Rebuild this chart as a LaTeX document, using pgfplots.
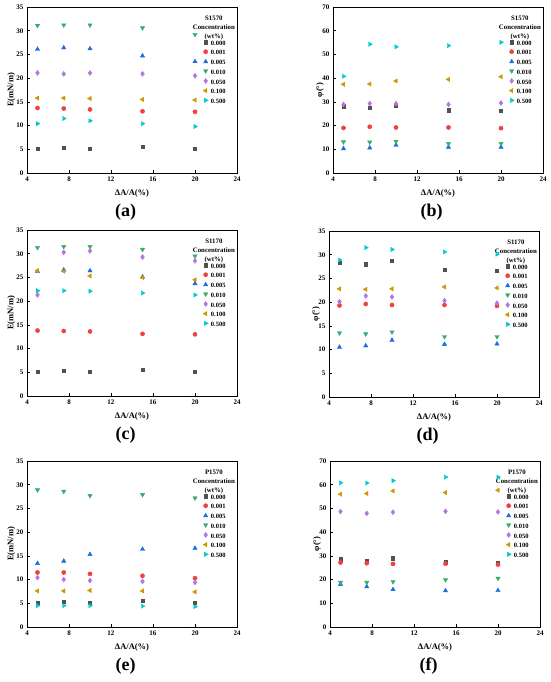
\documentclass[border=0pt]{standalone}
\usepackage{pgfplots}
\pgfplotsset{compat=1.18}
\usepackage{fontspec}
\setmainfont{Liberation Serif}
\definecolor{c0}{HTML}{515151}
\definecolor{c1}{HTML}{F14040}
\definecolor{c2}{HTML}{1A6FDF}
\definecolor{c3}{HTML}{37AD6B}
\definecolor{c4}{HTML}{B177DE}
\definecolor{c5}{HTML}{CC9900}
\definecolor{c6}{HTML}{00CBCC}
\pgfplotsset{
  myleg/.style={legend image code/.code={\draw[##1] plot coordinates {(0pt,1.8pt)};}},
  s0/.style={only marks, color=c0, mark=square*, mark size=1.6pt, myleg},
  s1/.style={only marks, color=c1, mark=*, mark size=2.1pt, myleg},
  s2/.style={only marks, color=c2, mark=triangle*, mark size=2.5pt, myleg},
  s3/.style={only marks, color=c3, mark=triangle*, mark size=2.5pt, mark options={rotate=180}, myleg},
  s4/.style={only marks, color=c4, mark=diamond*, mark size=2.5pt, myleg},
  s5/.style={only marks, color=c5, mark=triangle*, mark size=2.5pt, mark options={rotate=90}, myleg},
  s6/.style={only marks, color=c6, mark=triangle*, mark size=2.5pt, mark options={rotate=-90}, myleg},
  panel/.style={
    scale only axis, width=210pt, height=166pt, anchor=south west,
    xmin=4, xmax=24, xtick={4,8,12,16,20,24}, ymin=0,
    clip=false,
    axis line style={line width=0.7pt},
    tick style={line width=0.7pt, black},
    tick align=inside, xtick pos=bottom, ytick pos=left,
    major tick length=3pt,
    /pgf/number format/assume math mode=true,
    ticklabel style={font=\bfseries\fontsize{7}{8}\selectfont},
    xlabel={ΔA/A(\%)},
    every axis label/.append style={font=\bfseries\fontsize{8.5}{10}\selectfont},
    every axis x label/.style={at={(axis description cs:0.5,0)}, yshift=-20pt, anchor=center},
    every axis y label/.style={at={(axis description cs:-0.075,0.5)}, rotate=90, anchor=center},
    legend style={draw=none, fill=none, at={(axis description cs:0.838,0.8)}, anchor=north west,
      font=\bfseries\fontsize{6.5}{7}\selectfont, row sep=2.2pt, column sep=2.2pt, inner sep=0pt,
      nodes={inner sep=0.6pt}},
    legend cell align=left,
  },
}
\newcommand{\legtitle}[1]{\node[font=\bfseries\fontsize{6.8}{9.3}\selectfont, align=center, anchor=north] at (rel axis cs:0.89,0.97) {#1\\Concentration\\(wt\%)};}
\newcommand{\plabel}[1]{\node[font=\bfseries\fontsize{18}{20}\selectfont, yshift=-39pt] at (rel axis cs:0.47,0) {#1};}
\newcommand{\legs}{\legend{0.000,0.001,0.005,0.010,0.050,0.100,0.500}}
\begin{document}
\begin{tikzpicture}[x=1pt,y=1pt]
\path (0,0) rectangle (550,682);
% (a)
\begin{axis}[panel, at={(27pt,509pt)}, ymax=35, ytick={0,5,...,35}, ylabel={E(mN/m)}]
\addplot[s0] coordinates {(5,5.1) (7.5,5.3) (10,5.1) (15,5.5) (20,5.1)};
\addplot[s1] coordinates {(5,13.7) (7.5,13.6) (10,13.4) (15,13.0) (20,12.9)};
\addplot[s2] coordinates {(5,26.1) (7.5,26.4) (10,26.2) (15,24.7) (20,23.5)};
\addplot[s3] coordinates {(5,31.1) (7.5,31.2) (10,31.2) (15,30.6) (20,29.2)};
\addplot[s4] coordinates {(5,21.1) (7.5,20.9) (10,21.1) (15,20.9) (20,20.5)};
\addplot[s5] coordinates {(5,15.8) (7.5,15.8) (10,15.7) (15,15.5) (20,15.4)};
\addplot[s6] coordinates {(5,10.4) (7.5,11.5) (10,11.0) (15,10.4) (20,9.8)};
\legs
\legtitle{S1570}
\plabel{(a)}
\end{axis}
% (b)
\begin{axis}[panel, at={(333pt,509pt)}, ymax=70, ytick={0,10,...,70}, ylabel={φ(°)},
  every axis y label/.style={at={(axis description cs:-0.062,0.5)}, rotate=90, anchor=center}]
\addplot[s0] coordinates {(5,28.2) (7.5,27.6) (10,28.5) (15,26.5) (20,26.4)};
\addplot[s1] coordinates {(5,19.0) (7.5,19.5) (10,19.2) (15,19.2) (20,18.9)};
\addplot[s2] coordinates {(5,10.3) (7.5,10.6) (10,11.7) (15,10.9) (20,10.9)};
\addplot[s3] coordinates {(5,13.1) (7.5,13.0) (10,13.3) (15,12.4) (20,12.4)};
\addplot[s4] coordinates {(5,28.9) (7.5,29.3) (10,29.2) (15,28.9) (20,29.5)};
\addplot[s5] coordinates {(5,37.4) (7.5,37.5) (10,38.8) (15,39.5) (20,40.6)};
\addplot[s6] coordinates {(5,40.8) (7.5,54.3) (10,53.2) (15,53.7) (20,55.1)};
\legs
\legtitle{S1570}
\plabel{(b)}
\end{axis}
% (c)
\begin{axis}[panel, at={(27pt,286pt)}, ymax=35, ytick={0,5,...,35}, ylabel={E(mN/m)}]
\addplot[s0] coordinates {(5,5.2) (7.5,5.3) (10,5.2) (15,5.5) (20,5.2)};
\addplot[s1] coordinates {(5,13.8) (7.5,13.7) (10,13.6) (15,13.1) (20,13.0)};
\addplot[s2] coordinates {(5,26.3) (7.5,26.6) (10,26.4) (15,25.1) (20,23.7)};
\addplot[s3] coordinates {(5,31.3) (7.5,31.5) (10,31.5) (15,30.9) (20,29.5)};
\addplot[s4] coordinates {(5,21.3) (7.5,30.3) (10,30.6) (15,29.3) (20,28.5)};
\addplot[s5] coordinates {(5,26.4) (7.5,26.3) (10,25.3) (15,25.0) (20,24.5)};
\addplot[s6] coordinates {(5,22.2) (7.5,22.2) (10,22.1) (15,21.7) (20,21.3)};
\legs
\legtitle{S1170}
\plabel{(c)}
\end{axis}
% (d)
\begin{axis}[panel, at={(329pt,285pt)}, ymax=35, ytick={0,5,...,35}, ylabel={φ(°)},
  every axis y label/.style={at={(axis description cs:-0.062,0.5)}, rotate=90, anchor=center}]
\addplot[s0] coordinates {(5,28.4) (7.5,28.0) (10,28.8) (15,26.9) (20,26.7)};
\addplot[s1] coordinates {(5,19.3) (7.5,19.6) (10,19.4) (15,19.4) (20,19.2)};
\addplot[s2] coordinates {(5,10.5) (7.5,10.8) (10,12.0) (15,11.1) (20,11.2)};
\addplot[s3] coordinates {(5,13.5) (7.5,13.3) (10,13.7) (15,12.7) (20,12.7)};
\addplot[s4] coordinates {(5,20.1) (7.5,21.3) (10,21.1) (15,20.3) (20,19.8)};
\addplot[s5] coordinates {(5,22.8) (7.5,22.7) (10,22.8) (15,23.2) (20,23.0)};
\addplot[s6] coordinates {(5,28.9) (7.5,31.5) (10,31.1) (15,30.6) (20,30.1)};
\legs
\legtitle{S1170}
\plabel{(d)}
\end{axis}
% (e)
\begin{axis}[panel, at={(27pt,55pt)}, ymax=35, ytick={0,5,...,35}, ylabel={E(mN/m)}]
\addplot[s0] coordinates {(5,5.2) (7.5,5.3) (10,5.2) (15,5.5) (20,5.2)};
\addplot[s1] coordinates {(5,11.5) (7.5,11.5) (10,11.2) (15,10.8) (20,10.3)};
\addplot[s2] coordinates {(5,13.4) (7.5,13.9) (10,15.3) (15,16.4) (20,16.6)};
\addplot[s3] coordinates {(5,28.9) (7.5,28.6) (10,27.7) (15,27.9) (20,27.2)};
\addplot[s4] coordinates {(5,10.4) (7.5,10.0) (10,9.8) (15,9.6) (20,9.4)};
\addplot[s5] coordinates {(5,7.6) (7.5,7.6) (10,7.7) (15,7.6) (20,7.4)};
\addplot[s6] coordinates {(5,4.5) (7.5,4.5) (10,4.5) (15,4.4) (20,4.3)};
\legs
\legtitle{P1570}
\plabel{(e)}
\end{axis}
% (f)
\begin{axis}[panel, at={(330pt,55pt)}, ymax=70, ytick={0,10,...,70}, ylabel={φ(°)},
  every axis y label/.style={at={(axis description cs:-0.062,0.5)}, rotate=90, anchor=center}]
\addplot[s0] coordinates {(5,28.6) (7.5,28.1) (10,29.0) (15,27.3) (20,27.0)};
\addplot[s1] coordinates {(5,27.2) (7.5,26.9) (10,26.6) (15,26.7) (20,26.3)};
\addplot[s2] coordinates {(5,18.0) (7.5,17.0) (10,15.8) (15,15.3) (20,15.4)};
\addplot[s3] coordinates {(5,18.8) (7.5,18.8) (10,19.1) (15,19.9) (20,20.5)};
\addplot[s4] coordinates {(5,48.7) (7.5,47.9) (10,48.4) (15,48.8) (20,48.5)};
\addplot[s5] coordinates {(5,56.0) (7.5,56.3) (10,57.4) (15,56.7) (20,57.7)};
\addplot[s6] coordinates {(5,60.8) (7.5,60.7) (10,61.7) (15,63.2) (20,63.2)};
\legs
\legtitle{P1570}
\plabel{(f)}
\end{axis}
\end{tikzpicture}
\end{document}
